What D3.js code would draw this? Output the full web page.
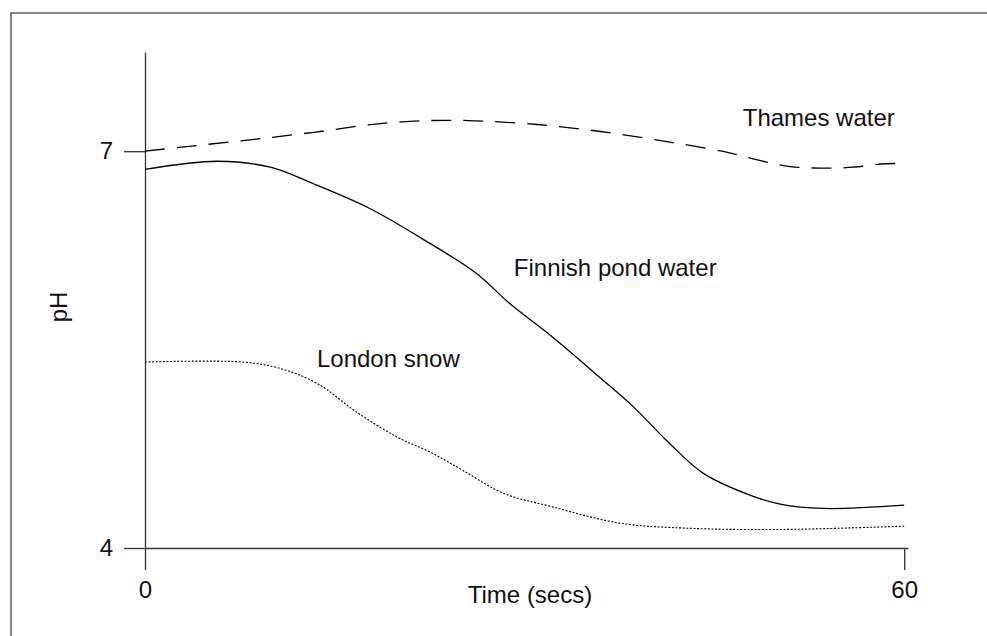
<!DOCTYPE html>
<html>
<head>
<meta charset="utf-8">
<script src="https://cdn.jsdelivr.net/npm/d3@7"></script>
<style>
  body { margin: 0; background: #fff; }
  svg { display: block; }
  text { font-family: "Liberation Sans", Arial, sans-serif; fill: #111; }
</style>
</head>
<body>
<svg id="chart" width="987" height="636"></svg>
<script>
// time (secs) and pH readings for each sample
const thamesTime = [0, 3.3, 8.3, 13.35, 18.4, 22.6, 26, 31, 36, 41, 45.7, 48.4, 51, 53.5, 56, 58.5, 60];
const thamesPH   = [7.0, 7.035, 7.086, 7.143, 7.207, 7.232, 7.23, 7.202, 7.149, 7.076, 6.998, 6.934, 6.884, 6.872, 6.879, 6.905, 6.907];

const finnishTime = [0, 5.7, 9.9, 13.3, 17.8, 21.7, 26.2, 28.8, 32.2, 35.9, 38.6, 41.2, 44.1, 47.8, 50.2, 53.6, 60];
const finnishPH   = [6.862, 6.924, 6.879, 6.754, 6.565, 6.35, 6.076, 5.85, 5.595, 5.293, 5.067, 4.815, 4.566, 4.4, 4.332, 4.299, 4.324];

const londonTime = [0, 7.7, 10.7, 13.6, 16.7, 19.9, 22.5, 25.1, 28.3, 32.2, 37.5, 42.8, 50.2, 60];
const londonPH   = [5.406, 5.406, 5.357, 5.245, 5.029, 4.84, 4.727, 4.588, 4.415, 4.311, 4.188, 4.15, 4.14, 4.165];

const seriesNames = ["Thames water", "Finnish pond water", "London snow"];
const xTicks = [0, 60];
const yTicks = [4, 7];

const series = [
  { name: seriesNames[0], t: thamesTime, ph: thamesPH, dash: "20,12", w: 1.3 },
  { name: seriesNames[1], t: finnishTime, ph: finnishPH, dash: null, w: 1.3 },
  { name: seriesNames[2], t: londonTime, ph: londonPH, dash: "2,1.6", w: 1.1 }
];

// where the labels sit, in data units
const labelAt = {
  "Thames water": [47.24, 7.187],
  "Finnish pond water": [29.15, 6.056],
  "London snow": [13.59, 5.368]
};

const svg = d3.select("#chart");

// outer frame (runs off the right and bottom of the page)
svg.append("rect")
  .attr("x", 11).attr("y", 13)
  .attr("width", 1000).attr("height", 700)
  .attr("fill", "none").attr("stroke", "#444").attr("stroke-width", 1.3);

const x = d3.scaleLinear().domain([0, 60.3]).range([145, 908]);
const y = d3.scaleLinear().domain([4, 7.75]).range([548, 52]);

const xAxis = svg.append("g")
  .attr("transform", "translate(0," + y(4) + ")")
  .call(d3.axisBottom(x).tickValues(xTicks).tickFormat(d3.format("d"))
    .tickSize(22).tickSizeOuter(0).tickPadding(11));

const yAxis = svg.append("g")
  .attr("transform", "translate(" + x(0) + ",0)")
  .call(d3.axisLeft(y).tickValues(yTicks).tickFormat(d3.format("d"))
    .tickSize(21).tickSizeOuter(0).tickPadding(11));

[xAxis, yAxis].forEach(g => {
  g.selectAll("path, line").attr("stroke", "#333").attr("stroke-width", 1.3);
  g.selectAll("text").attr("font-size", 24).attr("fill", "#111")
    .attr("font-family", "'Liberation Sans', Arial, sans-serif");
});

// axis titles
svg.append("text")
  .attr("x", 530).attr("y", 603)
  .attr("text-anchor", "middle")
  .attr("font-size", 24)
  .text("Time (secs)");

svg.append("text")
  .attr("transform", "translate(67,307) rotate(-90)")
  .attr("text-anchor", "middle")
  .attr("font-size", 24)
  .text("pH");

// the three curves
const line = d3.line()
  .x(d => x(d[0]))
  .y(d => y(d[1]))
  .curve(d3.curveCatmullRom.alpha(0.5));

series.forEach(s => {
  const pts = s.t.map((t, i) => [t, s.ph[i]]);
  svg.append("path")
    .datum(pts)
    .attr("d", line)
    .attr("fill", "none")
    .attr("stroke", "#000")
    .attr("stroke-width", s.w)
    .attr("stroke-dasharray", s.dash);

  const p = labelAt[s.name];
  svg.append("text")
    .attr("x", x(p[0])).attr("y", y(p[1]))
    .attr("font-size", 24)
    .text(s.name);
});
</script>
</body>
</html>
